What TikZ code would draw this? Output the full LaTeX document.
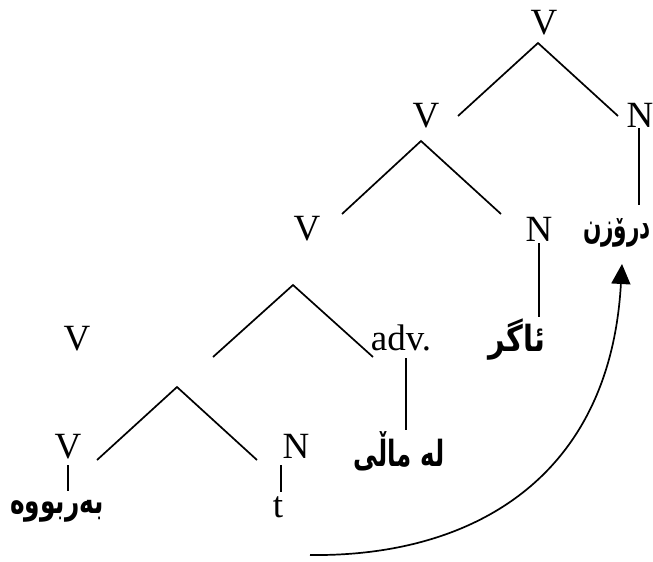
\documentclass[tikz,border=0pt]{standalone}
\usepackage{graphicx}
\usepackage{fontspec}
\setmainfont{Liberation Serif}
\newfontfamily\arabicfont[Script=Arabic]{DejaVu Sans}
\TeXXeTstate=1
\usetikzlibrary{arrows.meta}
\newcommand{\kw}[2]{\scalebox{#1}[1]{\arabicfont\bfseries\fontsize{36}{40}\selectfont #2}}
\tikzset{
  lat/.style={font=\fontsize{37}{40}\selectfont, inner sep=0pt, anchor=base},
  kur/.style={inner sep=0pt, anchor=center},
  edge/.style={line width=1.7pt, line cap=butt},
  move/.style={line width=1.7pt, -{Triangle[width=19pt,length=20pt]}}
}
\begin{document}
\begin{tikzpicture}[x=1pt,y=-1pt]
\useasboundingbox (0,0) rectangle (653,562);
% labels
\node[lat] (V1) at (544,34) {V};
\node[lat] (N1) at (640,127) {N};
\node[lat] (V2) at (426,127) {V};
\node[lat] (N2) at (539,241) {N};
\node[lat] (V3) at (307,240) {V};
\node[lat] (adv) at (401,350) {adv.};
\node[lat] (V4) at (77,350) {V};
\node[lat] (V5) at (68,458) {V};
\node[lat] (N3) at (296,458) {N};
\node[lat] (t) at (278,517) {t};
\node[kur] (w1) at (57,511) {\kw{0.69}{\beginR بەربووە\endR}};
\node[kur] (w2) at (399,451) {\kw{0.68}{\beginR لە ماڵی\endR}};
\node[kur] (w3) at (517,340) {\kw{0.8}{\beginR ئاگر\endR}};
\node[kur] (w4) at (617,233) {\kw{0.6}{\beginR درۆزن\endR}};
% branch points and line ends
\coordinate (a1) at (538,43);  \coordinate (a1l) at (458,116); \coordinate (a1r) at (618,116);
\coordinate (a2) at (421,141); \coordinate (a2l) at (342,214); \coordinate (a2r) at (501,214);
\coordinate (a3) at (293,285); \coordinate (a3l) at (213,357); \coordinate (a3r) at (373,357);
\coordinate (a4) at (177,387); \coordinate (a4l) at (97,460);  \coordinate (a4r) at (257,460);
\draw[edge] (a1l) -- (a1) -- (a1r);
\draw[edge] (a2l) -- (a2) -- (a2r);
\draw[edge] (a3l) -- (a3) -- (a3r);
\draw[edge] (a4l) -- (a4) -- (a4r);
% vertical connectors
\coordinate (n1b) at (639,128); \coordinate (w4t) at (639,205);
\coordinate (n2b) at (539,243); \coordinate (w3t) at (539,317);
\coordinate (advb) at (406,358); \coordinate (w2t) at (406,430);
\coordinate (v5b) at (68,465); \coordinate (w1t) at (68,491);
\coordinate (n3b) at (281,465); \coordinate (tt) at (281,492);
\draw[edge] (n1b) -- (w4t);
\draw[edge] (n2b) -- (w3t);
\draw[edge] (advb) -- (w2t);
\draw[edge] (v5b) -- (w1t);
\draw[edge] (n3b) -- (tt);
% movement arrow
\coordinate (s) at (310,555);
\coordinate (e) at (622,264);
\draw[move] (s) .. controls (470,557) and (610,480) .. (e);
\end{tikzpicture}
\end{document}
